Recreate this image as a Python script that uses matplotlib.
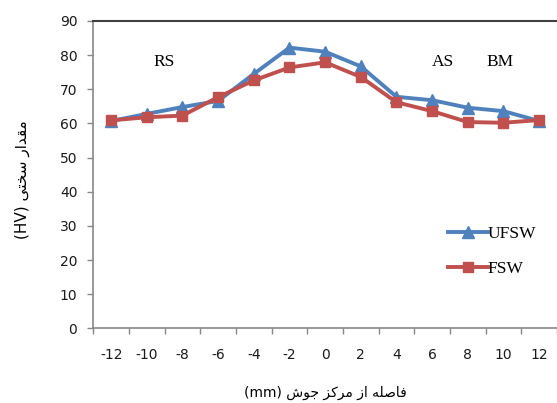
import numpy as np
import matplotlib
matplotlib.use('Agg')
import matplotlib.pyplot as plt
from matplotlib.ticker import MultipleLocator, FixedLocator

plt.rcParams['axes.unicode_minus'] = False  # خط تیره ساده برای اعداد منفی

# داده‌ها
distance = [-12, -10, -8, -6, -4, -2, 0, 2, 4, 6, 8, 10, 12]
ufsw = [60.7, 62.8, 64.8, 66.6, 74.5, 82.2, 81.0, 76.7, 67.8, 66.8, 64.6, 63.6, 60.7]
fsw = [60.9, 61.8, 62.3, 67.7, 72.6, 76.4, 77.9, 73.6, 66.2, 63.6, 60.4, 60.2, 61.0]
zone_labels = ['RS', 'AS', 'BM']
zone_x = [-9.0, 6.6, 9.8]
zone_y = [78, 78, 78]

# متن فارسی به صورت حروف شکل‌یافته (ترتیب دیداری)
xlabel_fa = '(mm) \uFEB5\uFEEE\uFE9F \uFEB0\uFB90\uFEAE\uFEE3 \uFEAF\uFE8D \uFEEA\uFEE0\uFEBB\uFE8E\uFED3'
ylabel_fa = '(HV) \uFBFD\uFE98\uFEA8\uFEB3 \uFEAD\uFE8D\uFEAA\uFED8\uFEE3'

blue = '#4F81BD'
red = '#C0504D'

fig = plt.figure(figsize=(5.57, 4.03), dpi=100)
ax = fig.add_axes([93.3 / 557, 1 - 328.3 / 403, 1 - 93.3 / 557, (328.3 - 21) / 403])

ax.plot(distance, ufsw, color=blue, lw=2.8, marker='^', markersize=8.5, label='UFSW', zorder=3)
ax.plot(distance, fsw, color=red, lw=2.8, marker='s', markersize=7, label='FSW', zorder=4)

ax.set_xlim(-13, 13)
ax.set_ylim(0, 90)
ax.yaxis.set_major_locator(MultipleLocator(10))
ax.xaxis.set_major_locator(FixedLocator(distance))
ax.xaxis.set_minor_locator(FixedLocator(np.arange(-13, 14, 2)))

ax.spines['right'].set_visible(False)
ax.spines['top'].set_color('#404040')
ax.spines['top'].set_linewidth(1.5)
for s in ['left', 'bottom']:
    ax.spines[s].set_color('#878787')
    ax.spines[s].set_linewidth(1.2)

ax.tick_params(axis='y', direction='out', length=4.5, width=1, color='#878787',
               labelsize=10, pad=7, labelcolor='#1a1a1a')
ax.tick_params(axis='x', which='major', length=0, labelsize=10, pad=14, labelcolor='#1a1a1a')
ax.tick_params(axis='x', which='minor', direction='out', length=4.5, width=1, color='#878787')

for t, x, y in zip(zone_labels, zone_x, zone_y):
    ax.text(x, y, t, fontsize=12.5, family='Liberation Serif', ha='center', va='center')

leg = ax.legend(loc='upper left', bbox_to_anchor=(0.75, 0.355), frameon=False,
                prop={'family': 'Liberation Serif', 'size': 12.5},
                handlelength=2.3, handletextpad=0.0, labelspacing=1.05, borderaxespad=0)

fig.text(325 / 557, 1 - 393 / 403, xlabel_fa, ha='center', va='center', fontsize=10,
         family='DejaVu Sans')
fig.text(22 / 557, 1 - 180 / 403, ylabel_fa, ha='center', va='center', fontsize=11,
         family='DejaVu Sans', rotation=90)

fig.savefig('out.png', dpi=100)
